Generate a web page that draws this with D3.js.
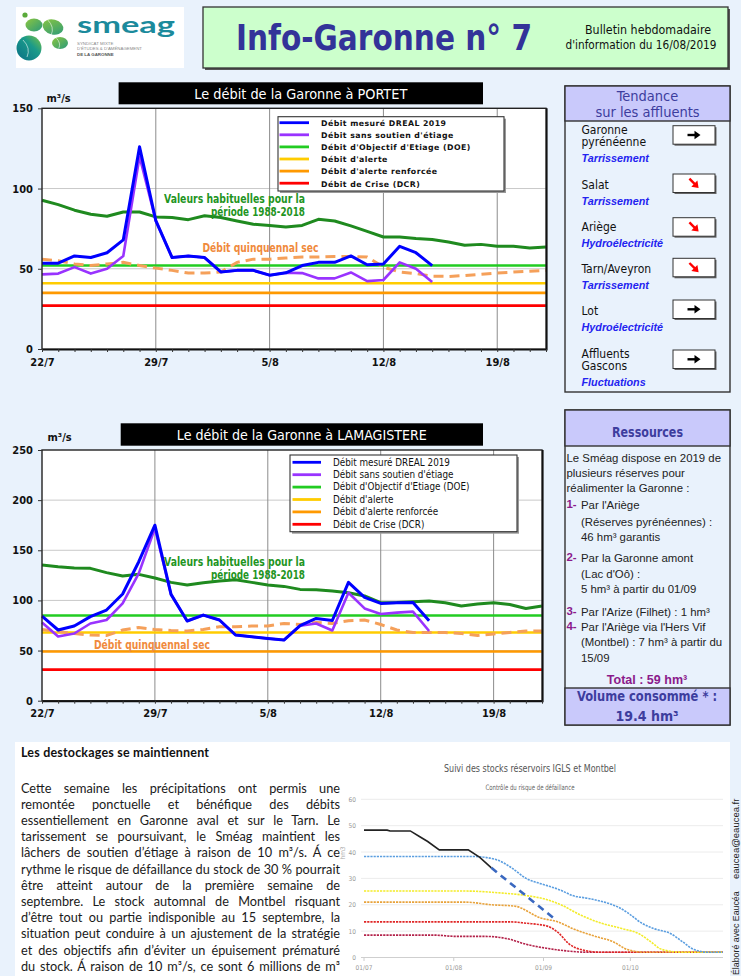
<!DOCTYPE html>
<html><head><meta charset="utf-8">
<script src="https://cdn.jsdelivr.net/npm/d3@7"></script>
<style>html,body{margin:0;padding:0;background:#e9f2fc;}svg{display:block;}</style>
</head><body><svg id="c" width="741" height="976"></svg>
<script>
// ---------------- DATA ----------------
const days = ["22/7","23/7","24/7","25/7","26/7","27/7","28/7","29/7","30/7","31/7","1/8","2/8","3/8","4/8","5/8","6/8","7/8","8/8","9/8","10/8","11/8","12/8","13/8","14/8","15/8","16/8","17/8","18/8","19/8","20/8","21/8","22/8"];
const weekTicks = ["22/7","29/7","5/8","12/8","19/8"];
const legendLabels = ["Débit mesuré DREAL 2019","Débit sans soutien d'étiage","Débit d'Objectif d'Etiage (DOE)","Débit d'alerte","Débit d'alerte renforcée","Débit de Crise (DCR)"];

// PORTET
const portetMesure = [53.5,53.5,58,57,60,68,126,80,57,58,57,48,49,49,46,47.5,52,54,54,58,52.5,53,64,60,52];
const portetSansSoutien = [46.5,47,51,47,50,58,120,80,57,58,57,48,49,49,46,47.5,47.3,44,44,47.7,42.3,43,54,50,41.7];
const portetHabituel = [92.7,90,86.5,84,82.7,85.4,85.4,82.3,82,80.6,83,82,79.8,77.7,77,76,77,80.8,79.8,76.7,73.3,69.8,69.8,68.8,68.3,66.7,64.6,65.2,64,64,63,63.5];
const portetQuinquennal = [56,55,53,52,53,54,52,50.4,49,47.3,47.3,48,54,56,56,56.7,57.3,57.3,57.7,57.7,57.3,51,48,47,45.4,45.2,45.8,46.5,47.3,48,48.5,49];
const portetSeuils = [52,41,35,27]; // DOE, alerte, alerte renforcée, crise
const portetYTicks = [0,50,100,150];

// LAMAGISTERE
const lamaMesure = [84.4,70.5,74.5,83.8,90.4,106.4,138.6,175,106,79.5,85.4,80.5,65.5,63.8,62,60.5,74.8,82,80,118,103,97,97.7,98,79.8];
const lamaSansSoutien = [78,64,67,77,80.5,97,127,172,106,79.5,85.4,80.5,65.5,63.8,62,60.5,74.8,77,70,107.7,92,86.5,87.8,88.8,69.5];
const lamaHabituel = [135.3,133.6,132.3,132,127.7,124.3,126,122.3,118,115.4,117.7,119.3,120.7,118,115.4,114,111,110.7,109.4,107.7,104.4,97.7,98,98.7,99.4,97.7,94.4,96.4,97.7,96,92,94.4];
const lamaQuinquennal = [71,69,67,65.5,65,70.5,73,71,70,69.5,71,73.8,73.8,74.5,74.5,77,76,78,77,79.8,80.5,76,70.5,68,68,68,67,65,66.5,68,69.5,69.5];
const lamaSeuils = [85,68,49,31];
const lamaYTicks = [0,50,100,150,200,250];

// Tendance
const affluents = [["Garonne","pyrénéenne"],["Salat"],["Ariège"],["Tarn/Aveyron"],["Lot"],["Affluents","Gascons"]];
const causes = ["Tarrissement","Tarrissement","Hydroélectricité","Tarrissement","Hydroélectricité","Fluctuations"];
const tendances = ["stable","baisse","baisse","baisse","stable","stable"];

// Ressources
const resIntro = ["Le Sméag dispose en 2019 de","plusieurs réserves pour","réalimenter la Garonne :"];
const resItems = [["1-",["Par l'Ariège","(Réserves pyrénéennes) :","46 hm³ garantis"]],["2-",["Par la Garonne amont","(Lac d'Oô) :","5 hm³ à partir du 01/09"]],["3-",["Par l'Arize (Filhet) : 1 hm³"]],["4-",["Par l'Ariège via l'Hers Vif","(Montbel) : 7 hm³ à partir du","15/09"]]];
const resTotal = "Total  : 59 hm³";
const resVolume = ["Volume consommé * :","19.4 hm³"];

// Texte
const texteTitre = "Les destockages se maintiennent";
const texte = ["Cette semaine les précipitations ont permis une","remontée ponctuelle et bénéfique des débits","essentiellement en Garonne aval et sur le Tarn. Le","tarissement se poursuivant, le Sméag maintient les","lâchers de soutien d’étiage à raison de 10 m³/s. Á ce","rythme le risque de défaillance du stock de 30 % pourrait","être atteint autour de la première semaine de","septembre. Le stock automnal de Montbel risquant","d’être tout ou partie indisponible au 15 septembre, la","situation peut conduire à un ajustement de la stratégie","et des objectifs afin d’éviter un épuisement prématuré","du stock. Á raison de 10 m³/s, ce sont 6 millions de m³"];

// Stocks IGLS + Montbel (hm3)
const stockObserve = [["01/07",48.3],["09/07",48.3],["10/07",48],["17/07",48],["20/07",46],["23/07",44],["27/07",40.8],["06/08",40.8],["10/08",38],["14/08",34]];
const stockPrevision = [["14/08",34],["05/09",14.5]];
const courbeBleue = [["01/07",38.3],["08/08",38.3],["16/08",37],["21/08",34],["26/08",30],["31/08",28],["03/09",27],["07/09",25.5],["11/09",23.5],["16/09",22.5],["22/09",21],["27/09",19],["30/09",17],["05/10",13],["09/10",11],["15/10",9],["19/10",6],["23/10",3],["28/10",2],["02/11",2]];
const courbeJaune = [["01/07",25.2],["05/08",25.2],["17/08",24.5],["26/08",23.5],["02/09",22],["07/09",20],["14/09",16],["21/09",13],["28/09",11],["04/10",9],["08/10",6],["12/10",3],["19/10",2],["02/11",2]];
const courbeOrange = [["01/07",21],["05/08",21],["14/08",20],["22/08",19.5],["31/08",15],["06/09",13.5],["11/09",11],["19/09",8],["25/09",6],["30/09",3],["06/10",2],["02/11",2]];
const courbeRouge = [["01/07",13.5],["21/08",13.5],["26/08",13],["02/09",12],["06/09",9.5],["10/09",5],["14/09",3],["21/09",2],["02/11",2]];
const courbeBordeaux = [["01/07",8.5],["25/07",8.5],["02/08",8],["12/08",8],["20/08",7],["26/08",5],["02/09",3.5],["09/09",2.5],["16/09",2],["02/11",2]];
const stockTicks = ["01/07","01/08","01/09","01/10"];
const stockYTicks = [0,10,20,30,40,50,60];

// ---------------- DRAW ----------------
const svg = d3.select("#c");
const COND = "'DejaVu Sans Condensed','DejaVu Sans',sans-serif";
const SANS = "'Liberation Sans',Arial,sans-serif";
const NARROW = "'Liberation Sans Narrow','DejaVu Sans Condensed',sans-serif";
const LATO = "Lato,'Open Sans',sans-serif";
const BG = "#e9f2fc";
svg.append("rect").attr("width",741).attr("height",976).attr("fill",BG);

function txt(g,x,y,s,o={}){
  const t=g.append("text").attr("x",x).attr("y",y).text(s)
    .attr("font-family",o.ff||COND).attr("font-size",o.fs||12).attr("fill",o.fill||"#000");
  if(o.fw)t.attr("font-weight",o.fw);
  if(o.st)t.attr("font-style",o.st);
  if(o.anchor)t.attr("text-anchor",o.anchor);
  if(o.tl)t.attr("textLength",o.tl).attr("lengthAdjust",o.la||"spacingAndGlyphs");
  if(o.ls)t.attr("letter-spacing",o.ls);
  if(o.tr)t.attr("transform",o.tr);
  return t;
}

// ---- Header ----
const hdr = svg.append("g");
hdr.append("rect").attr("x",16).attr("y",7).attr("width",168).attr("height",61).attr("fill","#fff");
const defs = svg.append("defs");
const gr = defs.append("linearGradient").attr("id","gBlob").attr("x1","0").attr("y1","1").attr("x2","1").attr("y2","0");
gr.append("stop").attr("offset","0").attr("stop-color","#0a6f86");
gr.append("stop").attr("offset","0.6").attr("stop-color","#1a9a8a");
gr.append("stop").attr("offset","1").attr("stop-color","#7cc242");
const gr2 = defs.append("linearGradient").attr("id","gBlob2").attr("x1","0").attr("y1","0").attr("x2","1").attr("y2","1");
gr2.append("stop").attr("offset","0").attr("stop-color","#8cc63f");
gr2.append("stop").attr("offset","1").attr("stop-color","#2a9a7a");
hdr.append("circle").attr("cx",25).attr("cy",15).attr("r",2.6).attr("fill","#5aaa3a");
hdr.append("ellipse").attr("cx",34).attr("cy",25).attr("rx",8.5).attr("ry",6.5).attr("fill","url(#gBlob2)");
hdr.append("ellipse").attr("cx",53).attr("cy",27).attr("rx",10.5).attr("ry",7.5).attr("fill","url(#gBlob2)").attr("transform","rotate(15,53,27)");
hdr.append("ellipse").attr("cx",29).attr("cy",48).attr("rx",12.5).attr("ry",12.5).attr("fill","url(#gBlob)");
hdr.append("ellipse").attr("cx",60).attr("cy",43).attr("rx",8).attr("ry",6).attr("fill","url(#gBlob2)");
[[53,27,9],[29,48,10],[60,43,6]].forEach(([cx,cy,r])=>{
  hdr.append("path").attr("d",`M${cx-r*0.6},${cy-r*0.8} Q${cx+r*0.2},${cy} ${cx-r*0.2},${cy+r*0.9}`).attr("fill","none").attr("stroke","#fff").attr("stroke-width",0.7).attr("opacity",0.8);
});
txt(hdr,77,32.5,"smeag",{ff:LATO,fs:23,fw:"bold",fill:"#1b8a9c",tl:98});
txt(hdr,77,45,"SYNDICAT MIXTE",{ff:SANS,fs:4.4,fill:"#8a8a8a"});
txt(hdr,77,50.3,"D'ÉTUDES & D'AMÉNAGEMENT",{ff:SANS,fs:4.4,fill:"#8a8a8a",tl:65});
txt(hdr,77,55.6,"DE LA GARONNE",{ff:SANS,fs:4.4,fill:"#555",fw:"bold"});

hdr.append("rect").attr("x",205).attr("y",9).attr("width",525).attr("height",61).attr("fill","#555");
hdr.append("rect").attr("x",203).attr("y",7).attr("width",525).attr("height",61).attr("fill","#ccffcc").attr("stroke","#333").attr("stroke-width",1.3);
txt(hdr,236,50,"Info-Garonne n° 7",{ff:NARROW,fs:35,fw:"bold",fill:"#333399",tl:296});
txt(hdr,648,34,"Bulletin hebdomadaire",{ff:NARROW,fs:12,fill:"#111",anchor:"middle",tl:126});
txt(hdr,641,49,"d'information du 16/08/2019",{ff:NARROW,fs:12,fill:"#111",anchor:"middle",tl:151});

// ---- Flow charts ----
const seuilColors = ["#22cc22","#ffcc00","#ff9900","#ff0000"];
const legendColors = ["#0000ff","#9933ff","#22cc22","#ffcc00","#ff9900","#ff0000"];

function drawChart(c){
  const g = svg.append("g");
  const {left,right,top,bottom} = c.frame;
  const x = d3.scalePoint().domain(days).range([left,right]);
  const y = d3.scaleLinear().domain([0,c.ymax]).range([bottom,top]);
  g.append("rect").attr("x",c.tb.x).attr("y",c.tb.y).attr("width",c.tb.w).attr("height",c.tb.h).attr("fill","#000");
  txt(g,c.tb.x+c.tb.w/2,c.tb.base,c.title,{fs:13.5,fill:"#fff",anchor:"middle",tl:c.tb.tl});
  txt(g,c.unit[0],c.unit[1],"m³/s",{fs:11,fw:"bold",fill:"#111"});
  g.append("rect").attr("x",left).attr("y",top).attr("width",right-left).attr("height",bottom-top).attr("fill","#fff");
  g.selectAll(".hg").data(c.yticks.filter(v=>v>0&&v<c.ymax)).join("line")
    .attr("x1",left).attr("x2",right).attr("y1",d=>y(d)).attr("y2",d=>y(d)).attr("stroke","#c9c9c9").attr("stroke-width",1);
  g.selectAll(".vg").data(weekTicks.slice(1)).join("line")
    .attr("x1",d=>x(d)).attr("x2",d=>x(d)).attr("y1",top).attr("y2",bottom).attr("stroke","#8c8c8c").attr("stroke-width",1);
  g.selectAll(".seuil").data(c.seuils).join("line")
    .attr("x1",left).attr("x2",right).attr("y1",d=>y(d)).attr("y2",d=>y(d))
    .attr("stroke",(d,i)=>seuilColors[i]).attr("stroke-width",2.6);
  const line = d3.line().x((d,i)=>x(days[i])).y(d=>y(d));
  g.append("path").attr("d",line(c.habituel)).attr("fill","none").attr("stroke","#1f8a1f").attr("stroke-width",3).attr("stroke-linejoin","round");
  g.append("path").attr("d",line(c.quinquennal)).attr("fill","none").attr("stroke","#f5a05a").attr("stroke-width",3).attr("stroke-dasharray","10,6");
  g.append("path").attr("d",line(c.sans)).attr("fill","none").attr("stroke","#9933ff").attr("stroke-width",2.6).attr("stroke-linejoin","round");
  g.append("path").attr("d",line(c.mesure)).attr("fill","none").attr("stroke","#0000ff").attr("stroke-width",3).attr("stroke-linejoin","round");
  g.append("rect").attr("x",left).attr("y",top).attr("width",right-left).attr("height",bottom-top).attr("fill","none").attr("stroke","#222").attr("stroke-width",1.4);
  g.append("path").attr("d",`M${right+0.8},${top} V${bottom+0.8} H${left}`).attr("fill","none").attr("stroke","#111").attr("stroke-width",1.6);
  const ya = g.append("g").attr("transform",`translate(${left},0)`).call(d3.axisLeft(y).tickValues(c.yticks).tickSize(4).tickPadding(5));
  ya.select(".domain").remove();
  ya.selectAll("line").attr("stroke","#333");
  ya.selectAll("text").attr("font-family",COND).attr("font-size",11).attr("font-weight","bold").attr("fill","#111");
  const xa = g.append("g").attr("transform",`translate(0,${bottom})`).call(d3.axisBottom(x).tickValues(days).tickSize(3).tickPadding(6).tickFormat(d=>weekTicks.includes(d)?d:""));
  xa.select(".domain").remove();
  xa.selectAll("line").attr("stroke","#333");
  xa.selectAll("text").attr("font-family",COND).attr("font-size",11).attr("font-weight","bold").attr("fill","#111");
  txt(g,c.ann.vx,c.ann.vy,"Valeurs habituelles pour la",{fs:12,fw:"bold",fill:"#1f951f",tl:141});
  txt(g,c.ann.vx+141,c.ann.vy+13.3,"période 1988-2018",{fs:12,fw:"bold",fill:"#1f951f",anchor:"end",tl:94});
  txt(g,c.ann.qx,c.ann.qy,"Débit quinquennal sec",{fs:12,fw:"bold",fill:"#f08a3c",tl:116});
  const L = c.legend;
  g.append("rect").attr("x",L.x+2).attr("y",L.y+2).attr("width",L.w).attr("height",L.h).attr("fill","#999");
  g.append("rect").attr("x",L.x).attr("y",L.y).attr("width",L.w).attr("height",L.h).attr("fill","#fff").attr("stroke","#333").attr("stroke-width",1.1);
  legendLabels.forEach((lab,i)=>{
    const yy = L.row0 + i*L.dy;
    g.append("line").attr("x1",L.sx).attr("x2",L.sx+L.sw).attr("y1",yy).attr("y2",yy).attr("stroke",legendColors[i]).attr("stroke-width",2.8);
    txt(g,L.tx,yy+3.3,lab,L.font);
  });
}

drawChart({
  title:"Le débit de la Garonne à PORTET", ymax:150, yticks:portetYTicks,
  mesure:portetMesure, sans:portetSansSoutien, habituel:portetHabituel, quinquennal:portetQuinquennal, seuils:portetSeuils,
  frame:{left:42,right:546,top:108.3,bottom:349},
  tb:{x:118.6,y:82.3,w:364.4,h:22,base:98.5,tl:213}, unit:[46.5,101.5],
  ann:{vx:164,vy:203,qx:202.5,qy:252},
  legend:{x:278,y:116.7,w:226,h:74.3,row0:122.7,dy:12.1,sx:279.5,sw:29.5,tx:321,font:{ff:"'DejaVu Sans',sans-serif",fs:7.8,fw:"bold",fill:"#111",ls:0.45}}
});
drawChart({
  title:"Le débit de la Garonne à LAMAGISTERE", ymax:250, yticks:lamaYTicks,
  mesure:lamaMesure, sans:lamaSansSoutien, habituel:lamaHabituel, quinquennal:lamaQuinquennal, seuils:lamaSeuils,
  frame:{left:42,right:542,top:450,bottom:700.7},
  tb:{x:120.7,y:423.3,w:362.3,h:22.4,base:439.5,tl:250}, unit:[47.5,441],
  ann:{vx:164,vy:565.5,qx:94,qy:648.5},
  legend:{x:290,y:455,w:227,h:76.7,row0:462.3,dy:12.4,sx:292.5,sw:28.5,tx:333,font:{ff:COND,fs:9.8,fill:"#111"}}
});

// ---- Tendance ----
const tg = svg.append("g");
tg.append("rect").attr("x",565).attr("y",86).attr("width",165).attr("height",306).attr("fill",BG).attr("stroke","#333").attr("stroke-width",1.4);
tg.append("rect").attr("x",565).attr("y",86).attr("width",165).attr("height",35).attr("fill","#c9c9fb").attr("stroke","#333").attr("stroke-width",1.4);
txt(tg,647.5,101,"Tendance",{fs:14.5,fill:"#3d3d9e",anchor:"middle"});
txt(tg,647.5,116.5,"sur les affluents",{fs:14.5,fill:"#3d3d9e",anchor:"middle"});
const nameBase = [133.5,189,231,273,315,357.5];
const boxTop = [125.7,174,217.7,258.3,300,350];
function arrow(g,cx,cy,color,angle){
  const a=g.append("g").attr("transform",`translate(${cx},${cy}) rotate(${angle})`);
  a.append("line").attr("x1",-6.5).attr("x2",1.5).attr("y1",0).attr("y2",0).attr("stroke",color).attr("stroke-width",2.4);
  a.append("path").attr("d","M0.5,-4.3 L6.5,0 L0.5,4.3 Z").attr("fill",color);
}
affluents.forEach((lines,i)=>{
  lines.forEach((l,j)=>txt(tg,581.5,nameBase[i]+j*12.5,l,{fs:12,fill:"#111"}));
  txt(tg,581.5,nameBase[i]+(lines.length-1)*12.5+15.5,causes[i],{ff:SANS,fs:10.8,fw:"bold",st:"italic",fill:"#2323f0"});
  tg.append("rect").attr("x",674.5).attr("y",boxTop[i]+1.5).attr("width",42).attr("height",18.5).attr("fill","#666");
  tg.append("rect").attr("x",673).attr("y",boxTop[i]).attr("width",42).attr("height",18.5).attr("fill","#fff").attr("stroke","#333").attr("stroke-width",1);
  if(tendances[i]==="stable") arrow(tg,694,boxTop[i]+9.3,"#000",0);
  else arrow(tg,694,boxTop[i]+9.3,"#ff0000",45);
});

// ---- Ressources ----
const rg = svg.append("g");
rg.append("rect").attr("x",565).attr("y",410).attr("width",165).attr("height",315).attr("fill",BG).attr("stroke","#333").attr("stroke-width",1.4);
rg.append("rect").attr("x",565).attr("y",410).attr("width",165).attr("height",36).attr("fill","#c9c9fb").attr("stroke","#333").attr("stroke-width",1.4);
rg.append("rect").attr("x",565).attr("y",688).attr("width",165).attr("height",37).attr("fill","#c9c9fb").attr("stroke","#333").attr("stroke-width",1.4);
txt(rg,647.5,436.5,"Ressources",{fs:14,fw:"bold",fill:"#3d3d9e",anchor:"middle",tl:71});
const RS = {ff:SANS,fs:11.4,fill:"#222"};
const introBase=[462.3,477.3,492.3];
resIntro.forEach((l,i)=>txt(rg,566.5,introBase[i],l,RS));
const itemBase=[[509,525.7,540.7],[562.3,578.3,593],[616.3],[630.7,646.3,661.7]];
resItems.forEach(([n,lines],i)=>{
  txt(rg,566.5,itemBase[i][0]-1,n,{ff:SANS,fs:11.4,fw:"bold",fill:"#8b1a8b"});
  lines.forEach((l,j)=>txt(rg,581,itemBase[i][j],l,RS));
});
txt(rg,647,683.5,resTotal,{ff:SANS,fs:12.5,fw:"bold",fill:"#8b1a8b",anchor:"middle"});
txt(rg,647,701,resVolume[0],{fs:14,fw:"bold",fill:"#3d3d9e",anchor:"middle",tl:140});
txt(rg,647,721,resVolume[1],{fs:14,fw:"bold",fill:"#3d3d9e",anchor:"middle"});

// ---- Bottom panel ----
const bg = svg.append("g");
bg.append("rect").attr("x",15).attr("y",742).attr("width",715).attr("height",240).attr("fill","#fff");
txt(bg,21,756.5,texteTitre,{ff:LATO,fs:12.5,fw:"bold",fill:"#111",tl:188,la:"spacing"});
// justified paragraph: size the font so the fullest line fits, then spread words
const COLW = 319;
const probe = texte.map(l=>txt(bg,21,792.5,l,{ff:LATO,fs:13,fill:"#1a1a1a"}));
const maxW = d3.max(probe,t=>t.node().getComputedTextLength());
probe.forEach(t=>t.remove());
const bodyFs = 13*COLW/maxW*0.995;
texte.forEach((l,i)=>{
  const t = txt(bg,21,792.5+i*16.2,l,{ff:LATO,fs:bodyFs,fill:"#1a1a1a"});
  const w = t.node().getComputedTextLength();
  const n = (l.match(/ /g)||[]).length;
  if(n>0) t.attr("word-spacing",((COLW-w)/n).toFixed(3));
});

// Stock chart
const pd = d3.timeParse("%d/%m/%Y");
const toD = s=>pd(s+"/2019");
const sx = d3.scaleTime().domain([toD("01/07"),toD("02/11")]).range([364,723]);
const sy = d3.scaleLinear().domain([0,60]).range([957.5,799.3]);
const sg = svg.append("g");
txt(sg,530,772,"Suivi des stocks réservoirs IGLS et Montbel",{ff:NARROW,fs:11,fill:"#555",anchor:"middle",tl:172});
txt(sg,530,790,"Contrôle du risque de défaillance",{ff:NARROW,fs:7.5,fill:"#666",anchor:"middle",tl:89});
sg.selectAll(".sgl").data(stockYTicks).join("line").attr("x1",361).attr("x2",723).attr("y1",d=>sy(d)).attr("y2",d=>sy(d)).attr("stroke",d=>d===0?"#cfcfcf":"#ececec").attr("stroke-width",1);
sg.selectAll(".syl").data(stockYTicks).join("text").attr("x",356).attr("y",d=>sy(d)+2.5).attr("text-anchor","end").attr("font-family",COND).attr("font-size",6.5).attr("fill","#999").text(d=>d);
sg.selectAll(".sxt").data(stockTicks).join("line").attr("x1",d=>sx(toD(d))).attr("x2",d=>sx(toD(d))).attr("y1",957.5).attr("y2",961).attr("stroke","#ccc");
sg.selectAll(".sxl").data(stockTicks).join("text").attr("x",d=>sx(toD(d))).attr("y",970).attr("text-anchor","middle").attr("font-family",COND).attr("font-size",6.5).attr("fill","#999").text(d=>d);
txt(sg,345,853,"hm3",{fs:6.5,fill:"#aaa",anchor:"middle",tr:"rotate(-90,345,853)"});
const sline = d3.line().x(d=>sx(toD(d[0]))).y(d=>sy(d[1])).curve(d3.curveMonotoneX);
[[courbeBordeaux,"#b3224a"],[courbeRouge,"#e02626"],[courbeOrange,"#e8a23a"],[courbeJaune,"#f3ec2a"],[courbeBleue,"#5b9ee0"]].forEach(([d,col])=>{
  sg.append("path").attr("d",sline(d)).attr("fill","none").attr("stroke",col).attr("stroke-width",1.6).attr("stroke-dasharray","2.2,1");
});
sg.append("path").attr("d",d3.line().x(d=>sx(toD(d[0]))).y(d=>sy(d[1]))(stockObserve)).attr("fill","none").attr("stroke","#222").attr("stroke-width",1.6);
sg.append("path").attr("d",d3.line().x(d=>sx(toD(d[0]))).y(d=>sy(d[1]))(stockPrevision)).attr("fill","none").attr("stroke","#3a68c0").attr("stroke-width",2.6).attr("stroke-dasharray","7,5");

// side credits (vertical, in the right margin)
txt(svg,739,879,"eaucea@eaucea.fr",{ff:SANS,fs:9.5,fill:"#222",tr:"rotate(-90,739,879)"});
txt(svg,739,975,"Élaboré avec Eaucéa",{ff:SANS,fs:8.8,fill:"#222",tr:"rotate(-90,739,975)"});
</script></body></html>
